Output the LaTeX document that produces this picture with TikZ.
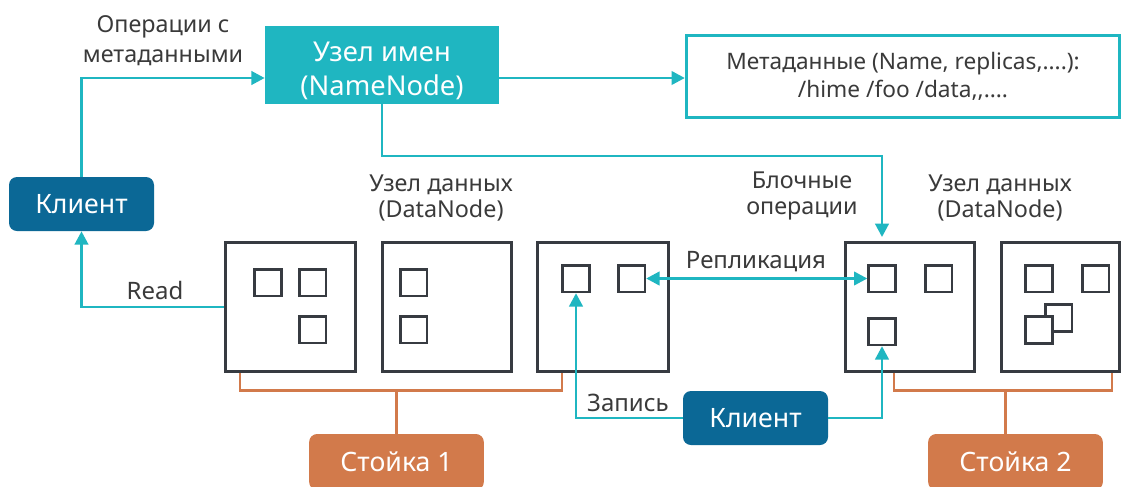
\documentclass[tikz,border=0pt]{standalone}
\usepackage{fontspec}
\setmainfont{Noto Sans}
\usetikzlibrary{arrows.meta,calc}
\definecolor{teal1}{HTML}{1FB6C1}
\definecolor{navy1}{HTML}{0B6896}
\definecolor{rust1}{HTML}{D27A4B}
\definecolor{gray1}{HTML}{373B41}
\definecolor{txt1}{HTML}{3A3A3A}
\begin{document}
\begin{tikzpicture}[x=0.75pt,y=-0.75pt,
  lbl/.style={text=txt1, align=center, inner sep=0pt, font=\fontsize{17.5}{20}\selectfont},
  smalllbl/.style={text=txt1, inner sep=0pt, font=\fontsize{18}{20}\selectfont},
  nnbox/.style={fill=teal1, inner sep=0pt, minimum width=175.5pt, minimum height=58.5pt},
  nntext/.style={text=white, align=center, inner sep=0pt, font=\fontsize{20.5}{25.5}\selectfont},
  metabox/.style={draw=teal1, line width=2.2pt, minimum width=325pt, minimum height=62pt, inner sep=0pt, text=txt1, align=center, font=\fontsize{17}{20.5}\selectfont},
  client/.style={fill=navy1, text=white, rounded corners=6pt, minimum width=108.75pt, minimum height=40.5pt, inner sep=0pt, font=\fontsize{20}{22}\selectfont},
  rack/.style={fill=rust1, text=white, rounded corners=6pt, minimum width=131pt, minimum height=42pt, inner sep=0pt, font=\fontsize{20}{22}\selectfont},
  dnbox/.style={draw=gray1, fill=white, line width=2.2pt, minimum height=96.75pt, inner sep=0pt},
  sq/.style={draw=gray1, fill=white, line width=2pt, minimum size=20pt, inner sep=0pt},
  conn/.style={draw=teal1, line width=2.2pt, -{Triangle[length=10pt,width=10pt]}},
  conn2/.style={draw=teal1, line width=2.2pt, {Triangle[length=10pt,width=10pt]}-{Triangle[length=10pt,width=10pt]}},
  rk/.style={draw=rust1, line width=1.9pt}
]
\useasboundingbox (0,0) rectangle (1123,486);
\fill[white] (0,0) rectangle (1123,486);

% helper coordinates
\coordinate (y78) at (0,78);
\coordinate (h156) at (0,156);
\coordinate (hr) at (0,389);

% top
\node[nnbox] (nn) at (382,65) {};
\node[nntext] (nnt) at (382,71) {Узел имен\\(NameNode)};
\node[metabox] (meta) at (903,76.5) {Метаданные (Name, replicas,....):\\/hime /foo /data,{},....};
\node[lbl, font=\fontsize{17.5}{22.5}\selectfont] (ops) at (163,41) {Операции с\\метаданными};

% clients
\node[client] (c1) at (81.5,204) {Клиент};
\node[client] (c2) at (755.5,418) {Клиент};

% racks
\node[rack] (r1) at (396.5,462) {Стойка 1};
\node[rack] (r2) at (1015.5,462) {Стойка 2};

% labels
\node[lbl] (dl1) at (441,198) {Узел данных\\(DataNode)};
\node[lbl] (bo) at (802,196) {Блочные\\операции};
\node[lbl] (dl2) at (1000,198) {Узел данных\\(DataNode)};
\node[smalllbl] (rd) at (155,290) {Read};
\node[smalllbl] (rep) at (756,262) {Репликация};
\node[smalllbl] (wr) at (628,403) {Запись};

% rack stems (behind boxes)
\coordinate (s2) at ($(r2.north)+(-10,0)$);
\draw[rk] (r1.north) -- (r1.north |- hr);
\draw[rk] (s2) -- (s2 |- hr);

% data node boxes
\node[dnbox, minimum width=97.5pt] (b1) at (290.5,307) {};
\node[dnbox, minimum width=96.75pt] (b2) at (447,307) {};
\node[dnbox, minimum width=98.25pt] (b3) at (603,307) {};
\node[dnbox, minimum width=96.75pt] (b4) at (910,307) {};
\node[dnbox, minimum width=88.5pt] (b5) at (1060.5,307) {};

\draw[rk] ($(b1.south west)+(16,0)$) -- ++(0,17.5) -| ($(b3.south west)+(26,0)$);
\draw[rk] ($(b4.south west)+(50,0)$) -- ++(0,17.5) -| ($(b5.south east)+(-9,0)$);

% blocks
\node[sq] (q1a) at (268,282.5) {};
\node[sq] (q1b) at (312.5,282.5) {};
\node[sq] (q1c) at (312.5,329.5) {};
\node[sq] (q2a) at (413.5,282.5) {};
\node[sq] (q2b) at (413.5,329.5) {};
\node[sq] (q3a) at (576,278.5) {};
\node[sq] (q3b) at (631.5,278.5) {};
\node[sq] (q4a) at (882,278.5) {};
\node[sq] (q4b) at (938.5,278.5) {};
\node[sq] (q4c) at (882,331.5) {};
\node[sq] (q5a) at (1039,278.5) {};
\node[sq] (q5b) at (1095.5,278.5) {};
\node[sq] (q5c) at (1058.5,318) {};
\node[sq] (q5d) at (1039,330) {};

% connectors
\draw[conn] (c1.north) |- (nn.west |- y78);
\draw[conn] (nn.east |- y78) -- (meta.west |- y78);
\draw[conn, shorten >=3pt] (nn.south) -- (nn.south |- h156) -| (q4a |- b4.north);
\draw[conn] (b1.west) -| (c1.south);
\draw[conn2] (q3b.east) -- (q4a.west);
\draw[conn] (c2.west) -| (q3a.south);
\draw[conn] (c2.east) -| (q4c.south);
\end{tikzpicture}
\end{document}
